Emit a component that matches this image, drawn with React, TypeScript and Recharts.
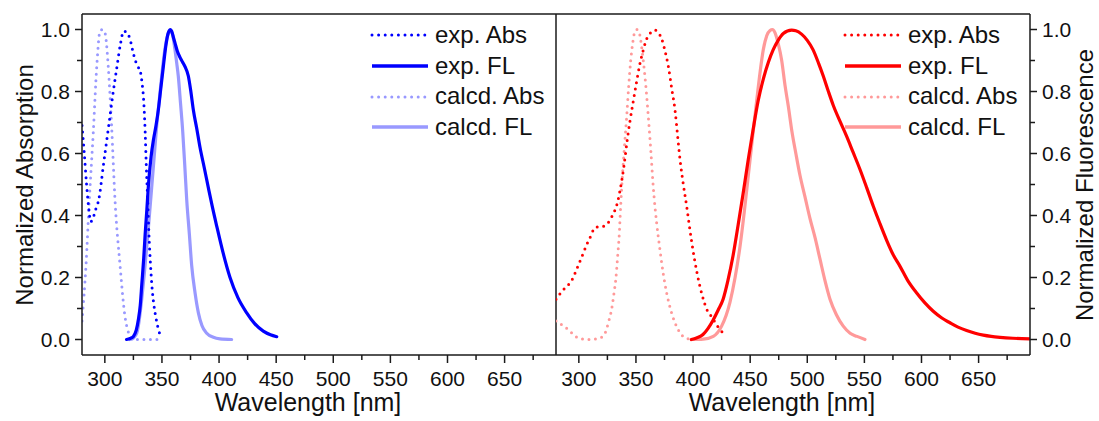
import { LineChart, Line, XAxis, YAxis, ReferenceLine, Legend } from "recharts";

// wavelength ticks (major every 50 nm carry a label, minor every 25 nm)
const xTicks = [300, 325, 350, 375, 400, 425, 450, 475, 500, 525, 550, 575, 600, 625, 650, 675];
const yTicks = [0, 0.1, 0.2, 0.3, 0.4, 0.5, 0.6, 0.7, 0.8, 0.9, 1.0];

// ---- left panel (blue) ----
const blueExpAbsWl = [280, 282, 284, 286, 287.6, 289.5, 292, 294.6, 299, 303.4, 307, 310.6, 313.5, 316.5, 319, 322, 324.5, 326.7, 329, 331, 332.5, 334, 335.3, 336.3, 337.5, 338.6, 340, 341.5, 343, 345, 347.5, 349.7];
const blueExpAbs = [0.69, 0.6, 0.5, 0.42, 0.38, 0.39, 0.42, 0.45, 0.57, 0.69, 0.79, 0.88, 0.95, 0.995, 0.99, 0.97, 0.93, 0.9, 0.88, 0.866, 0.83, 0.77, 0.67, 0.56, 0.45, 0.34, 0.24, 0.16, 0.11, 0.065, 0.025, 0.005];

const blueCalcAbsWl = [280, 283.5, 286.4, 289.9, 292.9, 295.8, 298, 300.1, 303, 305.9, 308.9, 313.3, 317.6, 320.5, 323.5, 330, 340, 349.7];
const blueCalcAbs = [0.06, 0.24, 0.45, 0.67, 0.88, 0.995, 1.0, 0.99, 0.88, 0.69, 0.45, 0.24, 0.075, 0.025, 0.005, 0, 0, 0];

const blueExpFlWl = [319, 322, 325, 327.5, 329.4, 331, 332.4, 334, 335.3, 336.8, 338.2, 340.5, 342.6, 344.8, 346.8, 349, 351.2, 353.5, 355.6, 357.5, 358.5, 360, 361.4, 363.5, 365.8, 368, 370.2, 373.1, 375.3, 377.5, 380.5, 383.3, 387, 390.6, 394, 398, 403.5, 409.6, 416.5, 424.2, 431, 438.7, 445, 450.5];
const blueExpFl = [0, 0.003, 0.01, 0.03, 0.065, 0.11, 0.18, 0.26, 0.34, 0.42, 0.5, 0.59, 0.645, 0.69, 0.74, 0.81, 0.88, 0.95, 0.99, 1.0, 0.995, 0.975, 0.957, 0.93, 0.91, 0.895, 0.88, 0.85, 0.8, 0.74, 0.68, 0.62, 0.555, 0.49, 0.43, 0.365, 0.28, 0.2, 0.135, 0.086, 0.052, 0.027, 0.015, 0.009];

const blueCalcFlWl = [322, 325, 327.9, 330, 332.3, 334.5, 336.7, 339, 341, 343.2, 345.4, 347.6, 349.8, 352, 354.2, 356, 357.7, 359.5, 361.4, 363, 364.3, 366.3, 368.2, 370, 371.7, 374, 376, 379, 381.9, 385, 389.2, 395, 400.8, 411];
const blueCalcFl = [0, 0.005, 0.02, 0.06, 0.13, 0.21, 0.3, 0.4, 0.49, 0.59, 0.69, 0.77, 0.85, 0.92, 0.97, 0.99, 0.995, 0.98, 0.935, 0.89, 0.85, 0.76, 0.67, 0.56, 0.45, 0.34, 0.24, 0.15, 0.086, 0.045, 0.02, 0.007, 0.002, 0];

// ---- right panel (red) ----
const redExpAbsWl = [280, 284, 288, 293.7, 298, 302.5, 306.9, 310, 313, 316, 320, 324.4, 327.9, 330.8, 333.7, 336.5, 339.5, 342.4, 345, 347.7, 350.5, 353.5, 356.5, 359.4, 363, 366.7, 369.5, 372.5, 375.5, 378.4, 381.3, 384.2, 386.4, 388.6, 391.5, 394.4, 397.4, 400.3, 403.2, 406.1, 409, 412, 415, 417.7, 420.5, 423.6, 427.1];
const redExpAbs = [0.13, 0.15, 0.167, 0.19, 0.226, 0.266, 0.306, 0.33, 0.355, 0.363, 0.364, 0.371, 0.39, 0.41, 0.44, 0.49, 0.56, 0.645, 0.71, 0.77, 0.83, 0.89, 0.935, 0.97, 0.99, 0.998, 0.99, 0.97, 0.93, 0.88, 0.81, 0.74, 0.66, 0.58, 0.5, 0.43, 0.35, 0.28, 0.22, 0.17, 0.13, 0.097, 0.08, 0.065, 0.048, 0.032, 0.019];

const redCalcAbsWl = [280, 284, 288, 292.3, 296, 299.5, 304, 308.3, 313, 318.5, 322.9, 325.8, 328.8, 330.8, 332.5, 334, 335.4, 336.6, 337.5, 339.7, 341.9, 343.7, 345.4, 347.3, 349.2, 351, 352.9, 354.6, 356.4, 358.6, 360.8, 363, 365.2, 368, 371, 374, 376.9, 380.5, 384.2, 388, 391.5, 396, 400.3, 409];
const redCalcAbs = [0.06, 0.05, 0.04, 0.027, 0.013, 0.005, 0.001, 0, 0.001, 0.005, 0.02, 0.054, 0.1, 0.15, 0.2, 0.27, 0.34, 0.43, 0.49, 0.61, 0.72, 0.82, 0.9, 0.96, 0.995, 1.0, 0.99, 0.955, 0.9, 0.82, 0.72, 0.61, 0.49, 0.38, 0.29, 0.21, 0.15, 0.095, 0.054, 0.025, 0.009, 0.002, 0, 0];

const redExpFlWl = [398.5, 403, 408.7, 413, 417.5, 422, 426.3, 430.5, 435, 439.5, 443.8, 448.3, 452.7, 457, 461.5, 466, 470.2, 474.5, 479, 486.3, 490, 495, 500, 505, 510, 514, 518.5, 522.8, 528.5, 534.5, 540, 546, 552, 557.8, 563.5, 569.5, 575, 581.2, 588, 595.8, 603, 610.3, 617.5, 624.9, 632, 639.5, 647, 654.1, 661, 668.7, 680, 695];
const redExpFl = [0, 0.005, 0.016, 0.035, 0.062, 0.095, 0.13, 0.19, 0.27, 0.37, 0.47, 0.58, 0.68, 0.77, 0.84, 0.895, 0.935, 0.965, 0.987, 0.998, 0.996, 0.985, 0.965, 0.935, 0.89, 0.85, 0.8, 0.755, 0.705, 0.655, 0.605, 0.55, 0.49, 0.43, 0.375, 0.32, 0.275, 0.236, 0.19, 0.15, 0.118, 0.091, 0.07, 0.054, 0.04, 0.029, 0.02, 0.014, 0.01, 0.007, 0.004, 0.002];

const redCalcFlWl = [400, 409, 417.7, 425, 432.3, 436.8, 441.1, 444.8, 448.4, 452, 455.7, 458.6, 461.5, 464.5, 467.4, 469.5, 471.7, 474.5, 477.6, 480.5, 483.5, 486.6, 490, 493.6, 498, 502.4, 506.7, 511.1, 515.5, 519.9, 525.5, 531.5, 537.5, 543.5, 550.5];
const redCalcFl = [0, 0.001, 0.01, 0.043, 0.12, 0.2, 0.3, 0.41, 0.53, 0.65, 0.77, 0.86, 0.935, 0.98, 0.997, 1.0, 0.99, 0.955, 0.9, 0.82, 0.75, 0.67, 0.6, 0.53, 0.46, 0.39, 0.33, 0.26, 0.19, 0.13, 0.08, 0.043, 0.02, 0.01, 0];

const FONT = "'Liberation Sans', Arial, sans-serif";
const AXIS = "#1a1a1a";
const BLUE = "#0000ff";
const BLUE_LIGHT = "#9999ff";
const RED = "#ff0000";
const RED_LIGHT = "#ff9999";

const zip = (xs: number[], ys: number[]) => xs.map((x, i) => ({ x, y: ys[i] }));

type Series = { name: string; data: { x: number; y: number }[]; color: string; dotted: boolean };

const leftSeries: Series[] = [
  { name: "calcd. Abs", data: zip(blueCalcAbsWl, blueCalcAbs), color: BLUE_LIGHT, dotted: true },
  { name: "calcd. FL", data: zip(blueCalcFlWl, blueCalcFl), color: BLUE_LIGHT, dotted: false },
  { name: "exp. Abs", data: zip(blueExpAbsWl, blueExpAbs), color: BLUE, dotted: true },
  { name: "exp. FL", data: zip(blueExpFlWl, blueExpFl), color: BLUE, dotted: false },
];
const rightSeries: Series[] = [
  { name: "calcd. Abs", data: zip(redCalcAbsWl, redCalcAbs), color: RED_LIGHT, dotted: true },
  { name: "calcd. FL", data: zip(redCalcFlWl, redCalcFl), color: RED_LIGHT, dotted: false },
  { name: "exp. Abs", data: zip(redExpAbsWl, redExpAbs), color: RED, dotted: true },
  { name: "exp. FL", data: zip(redExpFlWl, redExpFl), color: RED, dotted: false },
];

const legendOrder = ["exp. Abs", "exp. FL", "calcd. Abs", "calcd. FL"];

function XTick({ x, y, payload }: any) {
  const v = payload.value;
  const major = v % 50 === 0;
  return (
    <g>
      <line x1={x} x2={x} y1={y} y2={y + (major ? 8 : 5)} stroke={AXIS} strokeWidth={1.5} />
      {major && (
        <text x={x} y={y + 31} textAnchor="middle" fontSize={21} fontFamily={FONT} fill="#111">
          {v}
        </text>
      )}
    </g>
  );
}

function YTick({ x, y, payload, side }: any) {
  const v = payload.value;
  const major = Math.round(v * 10) % 2 === 0;
  const dir = side === "left" ? -1 : 1;
  return (
    <g>
      <line x1={x} x2={x + dir * (major ? 7 : 5)} y1={y} y2={y} stroke={AXIS} strokeWidth={1.5} />
      {major && (
        <text
          x={x + dir * 12}
          y={y}
          dy="0.36em"
          textAnchor={side === "left" ? "end" : "start"}
          fontSize={21}
          fontFamily={FONT}
          fill="#111"
        >
          {v.toFixed(1)}
        </text>
      )}
    </g>
  );
}

function SpectraLegend({ series }: { series: Series[] }) {
  const rows = legendOrder.map((n) => series.find((s) => s.name === n)!);
  return (
    <div style={{ fontFamily: FONT, fontSize: 24, color: "#111" }}>
      {rows.map((s) => (
        <div key={s.name} style={{ display: "flex", alignItems: "center", height: 30.7 }}>
          <svg width={60} height={10}>
            <line
              x1={2}
              x2={58}
              y1={5}
              y2={5}
              stroke={s.color}
              strokeWidth={s.dotted ? 3 : 3.5}
              strokeDasharray={s.dotted ? "0 6.6" : undefined}
              strokeLinecap={s.dotted ? "round" : "butt"}
            />
          </svg>
          <span style={{ marginLeft: 5, lineHeight: "30.7px", whiteSpace: "nowrap" }}>{s.name}</span>
        </div>
      ))}
    </div>
  );
}

function Panel({ series, side, width, legendLeft, title }: { series: Series[]; side: "left" | "right"; width: number; legendLeft: number; title: string }) {
  return (
    <LineChart width={width} height={421} margin={{ top: 14, right: 0, bottom: 0, left: 0 }}>
      <XAxis
        dataKey="x"
        type="number"
        domain={[280, 695]}
        allowDataOverflow
        ticks={xTicks}
        interval={0}
        tickSize={0}
        tickMargin={0}
        tickLine={false}
        height={66}
        axisLine={{ stroke: AXIS, strokeWidth: 1.5 }}
        tick={<XTick />}
        label={(p: any) => {
          const vb = p.viewBox || { x: side === "left" ? 82 : 0, y: 355, width: 474 };
          return (
            <text x={vb.x + vb.width / 2 - 11} y={vb.y + 56} textAnchor="middle" fontSize={25} fontFamily={FONT} fill="#111">
              Wavelength [nm]
            </text>
          );
        }}
      />
      <YAxis
        orientation={side}
        type="number"
        domain={[-0.05, 1.05]}
        allowDataOverflow
        ticks={yTicks}
        interval={0}
        tickSize={0}
        tickMargin={0}
        tickLine={false}
        width={side === "left" ? 82 : 69}
        axisLine={{ stroke: AXIS, strokeWidth: 1.5 }}
        tick={<YTick side={side} />}
        label={() => {
          const bx = side === "left" ? 33 : width - 6;
          return (
            <text
              x={bx}
              y={185}
              transform={`rotate(-90, ${bx}, 185)`}
              textAnchor="middle"
              fontSize={24}
              fontFamily={FONT}
              fill="#111"
            >
              {title}
            </text>
          );
        }}
      />
      <ReferenceLine y={1.05} stroke={AXIS} strokeWidth={1.5} />
      <ReferenceLine x={side === "left" ? 695 : 280} stroke={AXIS} strokeWidth={1.5} />
      {series.map((s) => (
        <Line
          key={s.name}
          data={s.data}
          dataKey="y"
          type="monotone"
          stroke={s.color}
          strokeWidth={s.dotted ? 3 : 3.2}
          strokeDasharray={s.dotted ? "0 6.5" : undefined}
          strokeLinecap="round"
          dot={false}
          activeDot={false}
          isAnimationActive={false}
        />
      ))}
      <Legend
        layout="vertical"
        align="center"
        verticalAlign="middle"
        content={() => <SpectraLegend series={series} />}
        wrapperStyle={{ left: legendLeft, top: 20, width: 200, height: 125 }}
      />
    </LineChart>
  );
}

export default function App() {
  return (
    <div style={{ position: "absolute", left: 0, top: 0, width: 1099, height: 421, background: "#fff" }}>
      <div style={{ position: "absolute", left: 0, top: 0 }}>
        <Panel series={leftSeries} side="left" width={556} legendLeft={370} title="Normalized Absorption" />
      </div>
      <div style={{ position: "absolute", left: 556, top: 0 }}>
        <Panel series={rightSeries} side="right" width={543} legendLeft={287} title="Normalized Fluorescence" />
      </div>
    </div>
  );
}
